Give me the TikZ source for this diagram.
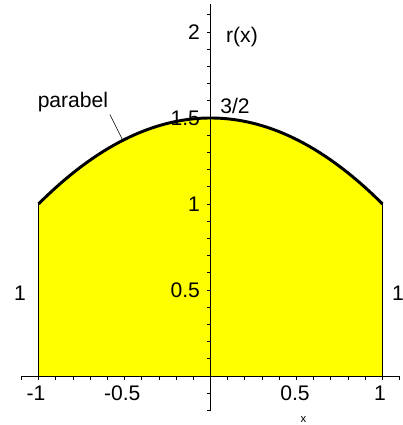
\documentclass[tikz,border=0pt]{standalone}
\usepackage{fontspec}
\setmainfont{Liberation Sans}
\usetikzlibrary{calc, positioning}
\definecolor{plotYellow}{HTML}{FFFF00}
\tikzset{
  axisline/.style  = {line width=0.6pt, black},
  curveline/.style = {line width=2.1pt, black},
  edgeline/.style  = {line width=0.7pt, black},
  areafill/.style  = {fill=plotYellow},
  lbl/.style       = {font=\fontsize{15}{17}\selectfont, inner sep=1pt},
  slbl/.style      = {font=\fontsize{8}{9}\selectfont, inner sep=1pt},
  leader/.style    = {line width=0.4pt, black},
}

\begin{document}
\begin{tikzpicture}[x=4.3cm,y=4.3cm]
  \useasboundingbox (-1.224,-0.285) rectangle (1.119,2.186);
  % area under r(x) = 3/2 - x^2/2
  \fill[areafill] (-1,0) -- plot[domain=-1:1, samples=80] (\x, {1.5-0.5*\x*\x}) -- (1,0) -- cycle;
  \draw[edgeline] (-1,0) -- (-1,1);
  \draw[edgeline] (1,0) -- (1,1);
  % axes with ticks every 0.1
  \draw[axisline] (-1.1,0) -- (1.1,0);
  \draw[axisline] (0,-0.2) -- (0,2.16);
  \foreach \t in {-11,...,11} \draw[axisline] (\t/10,0) -- ++(0,-0.023);
  \foreach \t in {-2,...,21} \draw[axisline] (0,\t/10) -- ++(-0.023,0);
  % tick labels
  \foreach \v/\n in {2/ytwo, 1.5/yonehalf, 1/yone, 0.5/yhalf}
    \node[lbl, anchor=east] (\n) at (-0.052,\v) {\v};
  \node[lbl, anchor=north] (xmone)  at (-1.015,-0.05) {-1};
  \node[lbl, anchor=north] (xmhalf) at (-0.513,-0.05) {-0.5};
  \node[lbl, anchor=north] (xhalf)  at (0.491,-0.05)  {0.5};
  \node[lbl, anchor=north] (xone)   at (0.985,-0.05)  {1};
  \node[slbl] (xlabel) at (0.54,-0.256) {x};
  % curve
  \draw[curveline] plot[domain=-1:1, samples=80] (\x, {1.5-0.5*\x*\x});
  % annotations
  \node[lbl] (rlabel) at (0.183,1.97) {r(x)};
  \node[lbl] (toplabel) at (0.142,1.567) {3/2};
  \node[lbl] (parabel) at (-0.80,1.592) {parabel};
  \coordinate (oncurve) at (-0.51,{1.5-0.5*0.51*0.51});
  \draw[leader] ($(parabel.south)+(0.215,-0.005)$) -- (oncurve);
  \node[lbl] (lefth)  at (-1.108,0.483) {1};
  \node[lbl] (righth) at (1.09,0.483) {1};
\end{tikzpicture}
\end{document}
